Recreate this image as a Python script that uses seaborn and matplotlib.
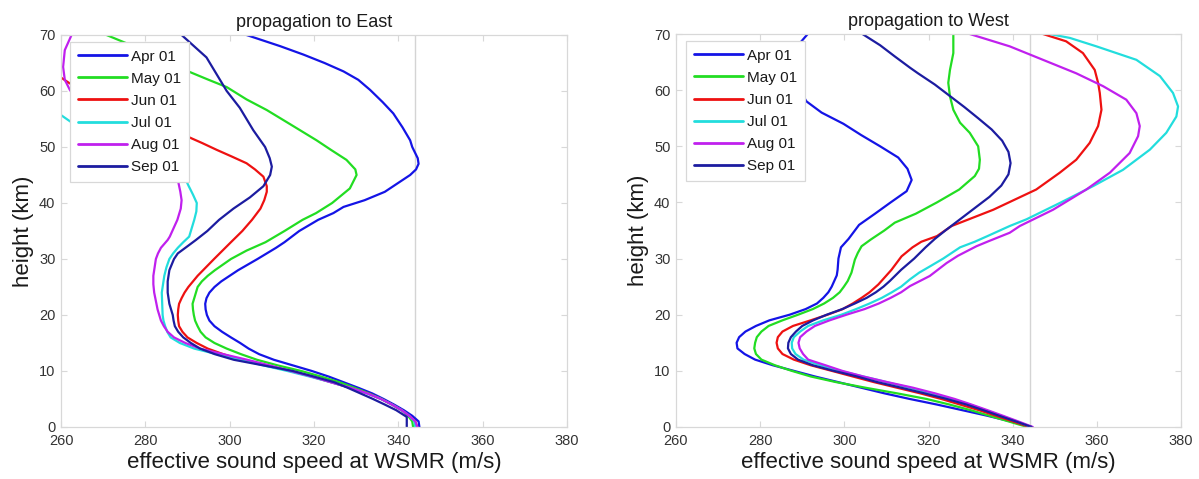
import matplotlib
matplotlib.use("Agg")
import matplotlib.pyplot as plt
import pandas as pd
import seaborn as sns

# Effective sound speed profiles at WSMR: (height km, speed m/s)
MONTHS = ["Apr 01", "May 01", "Jun 01", "Jul 01", "Aug 01", "Sep 01"]
COLORS = ["#1414e6", "#22dd22", "#ee1111", "#22dddd", "#c020ee", "#1c1ca0"]

EAST_APR = [(0, 345), (1, 344.8), (2, 343.3), (3, 341.3), (4, 339), (5, 336.5), (6, 333.8), (7, 330.5),
            (8, 327), (9, 323.5), (10, 319.5), (11, 315), (12, 310.5), (13, 307), (14, 304.5), (15, 302.5),
            (16, 300.3), (17, 298.2), (18, 296.4), (19, 295.2), (20, 294.6), (21, 294.3), (22, 294.2),
            (23, 294.5), (24, 295.2), (25, 296.4), (26, 298), (27, 300), (28, 302), (30, 306.6), (32, 311),
            (33, 313), (35, 316.5), (37, 321), (38.2, 324.6), (39.3, 327), (40.5, 332), (42, 336.8),
            (43.8, 340.4), (45, 342.8), (46, 344.2), (47, 344.8), (48, 344.6), (50, 343.3), (51.2, 342.8),
            (53.5, 341), (56, 338.8), (58, 336.3), (60.2, 333.3), (62, 330.5), (63.5, 327), (65, 322.5),
            (66.5, 317.5), (68, 312), (70, 304)]
EAST_MAY = [(0, 343.5), (1, 343.3), (2, 342.3), (3, 340.8), (4, 338.5), (5, 336), (6, 333), (7, 329.6),
            (8, 326), (9, 321.7), (10, 317), (11, 311.4), (12, 306.5), (13, 302.7), (14, 299.3), (15, 296.4),
            (16, 294.3), (17, 293.1), (18, 292.4), (19, 291.8), (20, 291.5), (21, 291.3), (22, 291.2),
            (23, 291.6), (24, 292), (25, 292.4), (26, 293.4), (27, 294.8), (28, 296.5), (30, 300.3),
            (31.5, 304), (33, 308.5), (35, 313), (37, 317.3), (38.2, 320.5), (40, 324.3), (42.6, 328.5),
            (45, 330.1), (46, 329.8), (47.7, 327.7), (49.5, 324), (51.2, 320.6), (54, 314.5), (56.6, 308.8),
            (58.5, 304), (60.7, 299.3), (62, 295), (63.5, 290.2), (65, 285.7), (67, 279.9), (68.5, 275.6),
            (70, 270.8)]
EAST_JUN = [(0, 344.5), (1, 344), (2, 342.6), (3, 340.8), (4, 338.5), (5, 335.9), (6, 332.8), (7, 328.6),
            (8, 324), (9, 319.5), (10, 314.5), (11, 308.5), (12, 302.7), (13, 298.5), (14, 294.8), (15, 292.2),
            (16, 290), (17, 288.8), (18, 288), (19, 287.8), (20, 287.7), (21, 287.8), (22, 288), (23, 288.6),
            (24, 289.3), (25, 290.2), (26, 291.3), (27, 292.4), (28, 293.7), (30, 296.3), (31.5, 298.3),
            (33, 300.3), (35, 303), (37, 305.3), (39, 307.3), (40.5, 308.2), (42, 308.8), (43, 308.8),
            (44.7, 308), (46, 306), (47.1, 304), (48.3, 300.5), (49.5, 296.9), (50.7, 293.5), (51.8, 290.2),
            (53, 286), (55, 280), (57, 273.5), (59, 268), (61.4, 262), (62.4, 260), (63.5, 257)]
EAST_JUL = [(0, 344), (1, 343.8), (2, 342.6), (3, 340.8), (4, 338.5), (5, 335.9), (6, 332.6), (7, 328.6),
            (8, 324), (9, 319), (10, 313.7), (11, 308), (12, 302.7), (13, 297), (14, 291.6), (15, 288.2),
            (16, 286), (17, 285.2), (18, 284.7), (19, 284.3), (20, 284.1), (22, 284), (24, 283.9), (25, 284.1),
            (27, 284.5), (28.5, 285), (30, 285.7), (31, 286.6), (32, 287.7), (33, 289), (34, 290.4),
            (35, 290.8), (37, 291.6), (38.5, 292.1), (40, 292.2), (41.5, 291.3), (43, 290.3), (43.8, 289.8),
            (45, 288), (48, 284), (51, 278), (53, 270), (54.5, 262.3), (55.7, 260), (56.5, 258)]
EAST_AUG = [(0, 344.5), (1, 344), (2, 342.6), (3, 340.8), (4, 338.5), (5, 335.9), (6, 332.6), (7, 328.6),
            (8, 324), (9, 319.5), (10, 314.5), (11, 309.5), (12, 304.2), (13, 298.5), (14, 293), (15, 289.5),
            (16, 286.8), (17, 285.3), (18, 284.4), (19, 283.7), (21, 282.9), (22.5, 282.5), (24, 282.1),
            (25.5, 281.9), (27, 281.9), (28.5, 282.2), (30, 282.5), (31, 283), (32, 283.7), (33.4, 285.3),
            (34, 285.8), (35.5, 286.7), (37, 287.6), (39, 288.4), (40.5, 288.6), (42, 288.3), (43.8, 287.8),
            (46, 285), (50, 278), (54, 270), (57, 265), (60.2, 262.1), (62, 260.9), (64.3, 260.5),
            (67.3, 260.9), (70, 262.5)]
EAST_SEP = [(0, 342), (1, 342), (1.8, 342), (3, 339.5), (4, 336.8), (5, 334), (6, 331), (7, 328),
            (8, 324.8), (9, 320), (10, 315), (11, 308), (12, 301), (13, 296.5), (14, 293), (15, 290.8),
            (16, 289), (17, 287.8), (18, 287), (19, 286.7), (20, 286.5), (22, 285.7), (24, 285.3), (26, 285.3),
            (28, 285.7), (30, 286.8), (31, 287.7), (32, 289.5), (33.4, 292), (35, 294.7), (37, 297.5),
            (39, 300.9), (41, 304.8), (43, 308), (45, 309.6), (46.5, 310), (48, 309.5), (50, 308.4),
            (53, 305.6), (57, 302.4), (60, 299.3), (62, 297.7), (66, 294.5), (70, 288.6)]

WEST_APR = [(0, 344.5), (1, 339.5), (2, 334), (3, 328), (4, 322), (5, 315.5), (6, 309.5), (7, 304),
            (8, 298.5), (9, 293), (10, 288), (11, 283), (12, 278.8), (13, 276.3), (14, 274.6), (15, 274.4),
            (16, 275), (17, 276.5), (18, 279), (19, 282.2), (20, 287), (21, 290.8), (22, 293.5), (23, 295),
            (24, 296.2), (25, 297), (26, 297.6), (27, 298.2), (28, 298.4), (30, 298.6), (32, 299.2),
            (33.5, 301), (36, 303.5), (38, 307.3), (40, 311), (42, 314.8), (44, 316), (46, 315), (48, 312.8),
            (50, 308.5), (52, 304), (54, 299.8), (56, 294.6), (58, 291), (59.5, 289.8), (62, 287.5),
            (65, 287), (68, 289), (70, 291.3)]
WEST_MAY = [(0, 343.5), (1, 339), (2, 334.5), (3, 330), (4, 325), (5, 319.5), (6, 312.5), (7, 305),
            (8, 298), (9, 292), (10, 287.5), (11, 283.5), (12, 280.3), (13, 279), (14, 278.6), (15, 278.8),
            (16, 279.2), (17, 280.3), (18, 282), (19, 285.3), (20, 289), (21, 292.5), (22, 295.2), (23, 297.3),
            (24, 298.9), (25, 299.9), (26, 300.8), (27.5, 301.7), (29.8, 302.5), (31, 303.2), (32.2, 304.1),
            (33.4, 306.3), (35, 309.5), (36.4, 312), (38, 317), (40, 322), (42.3, 327.3), (44.7, 331),
            (46, 332), (47.6, 332.2), (50, 331.8), (52.4, 329.8), (54.2, 327.5), (56.5, 325.9), (58.9, 325.1),
            (61.3, 324.7), (63.6, 325.1), (66.6, 325.9), (70, 325.9)]
WEST_JUN = [(0, 344), (1, 340), (2, 336), (3, 332), (4, 327.5), (5, 323), (6, 318), (7, 312.5), (8, 307),
            (9, 302), (10, 297), (11, 292), (12, 288), (13, 285.3), (14, 284.2), (15, 283.9), (16, 284.2),
            (17, 285.3), (18, 287.8), (19, 292), (20, 296), (21, 299.6), (22, 302), (23, 304.1), (24, 306),
            (25.4, 308.1), (28, 311.2), (30.4, 313.6), (32, 316.2), (33, 318.3), (34, 322), (35.8, 325.5),
            (38.7, 335.4), (42.3, 345.6), (45.3, 351.2), (47.6, 355.1), (50.6, 358.3), (53.6, 360.3),
            (56.5, 361.1), (59.5, 360.7), (61.3, 360.3), (63.6, 359.5), (66.6, 356.7), (68.7, 352.7),
            (70, 347.2)]
WEST_JUL = [(0, 344.5), (1, 341), (2, 337.2), (3, 333.5), (4, 329.8), (5, 325.5), (6, 320.5), (7, 315.5),
            (8, 310), (9, 304.5), (10, 299), (11, 294.3), (12, 290.3), (13, 288.4), (14, 287.6), (15, 287.5),
            (16, 288), (17, 289.5), (18, 291.4), (19, 295), (20, 299.3), (21, 302.8), (22, 306), (23, 308.9),
            (24, 311.3), (25, 313.5), (26.3, 315.6), (27.5, 317.8), (28.5, 320.1), (30, 323.5), (32, 327.5),
            (33, 331), (34, 334), (35.8, 339.3), (37, 343.3), (39.9, 351.2), (42.9, 359.1), (45.8, 366.2),
            (49.4, 372.6), (52.4, 376.5), (55.3, 378.9), (57.1, 379.3), (59.5, 378.1), (62.5, 375),
            (65.4, 369.4), (67.8, 359.9), (69.3, 353.6), (70, 348.8)]
WEST_AUG = [(0, 344.8), (1, 341.3), (2, 337.7), (3, 334), (4, 330.2), (5, 326.2), (6, 321.5), (7, 316.3),
            (8, 310.2), (9, 304.5), (10, 299.5), (11, 295.5), (12, 291.4), (13, 290.2), (14, 289.4),
            (15, 289.1), (16, 289.5), (17, 291), (18, 293), (19, 296.5), (20, 300.5), (21, 304.8), (22, 308.2),
            (23, 311), (24, 313.5), (25.1, 315.6), (26.9, 320.3), (29.2, 324.3), (30.5, 327), (32.2, 331.4),
            (33.1, 334.3), (34.6, 339.3), (35.8, 341.7), (38.7, 349.6), (42.3, 357.5), (45.3, 363.1),
            (48.8, 367.8), (51.8, 369.8), (53.6, 370.2), (55.9, 369.4), (58.3, 367), (60.7, 361.5),
            (63, 355.1), (65.4, 347.2), (67.8, 339.3), (70, 329.8)]
WEST_SEP = [(0, 344.5), (1, 340.7), (2, 336.8), (3, 333), (4, 329), (5, 324.3), (6, 319), (7, 313.5),
            (8, 307.8), (9, 303), (10, 297.5), (11, 292.5), (12, 289), (13, 287.3), (14, 286.6), (15, 286.7),
            (16, 287.3), (17, 288.5), (18, 290), (19, 292.6), (20, 295.8), (21, 299.5), (22, 302.5),
            (23, 305.3), (24, 307.5), (25, 309.3), (26, 310.8), (28, 313.5), (30, 316.6), (32, 319.3),
            (33.5, 321.5), (35, 324), (37, 327.5), (39, 331), (41, 334.5), (43, 337.3), (45, 339), (47, 339.5),
            (49, 339), (51, 337.5), (53, 335), (55, 331.8), (57, 328.5), (59, 325), (61, 321.5), (63, 317.5),
            (64, 315.6), (66, 312), (68, 308.5), (70, 304.3)]

EAST = [EAST_APR, EAST_MAY, EAST_JUN, EAST_JUL, EAST_AUG, EAST_SEP]
WEST = [WEST_APR, WEST_MAY, WEST_JUN, WEST_JUL, WEST_AUG, WEST_SEP]

GROUND_SPEED = 344  # surface sound speed reference line
X_TICKS = [260, 280, 300, 320, 340, 360, 380]
Y_TICKS = [0, 10, 20, 30, 40, 50, 60, 70]


def to_frame(profiles):
    rows = []
    for month, prof in zip(MONTHS, profiles):
        for h, c in prof:
            rows.append((month, h, c))
    return pd.DataFrame(rows, columns=["month", "height", "speed"])


sns.set_theme(style="white")
plt.rcParams["font.family"] = ["Liberation Sans", "DejaVu Sans"]

W, H = 1199, 479
fig = plt.figure(figsize=(W / 100, H / 100), dpi=100)
ax_e = fig.add_axes([61 / W, 1 - 427 / H, 506 / W, 392 / H])
ax_w = fig.add_axes([676 / W, 1 - 427 / H, 505 / W, 393 / H])

frame_grey = "#d8d8d8"
panels = [(ax_e, EAST, "propagation to East", 9 / 506),
          (ax_w, WEST, "propagation to West", 10 / 505)]

for ax, profiles, title, leg_x in panels:
    df = to_frame(profiles)
    ax.axvline(GROUND_SPEED, color="#d4d4d4", lw=1.0, zorder=0)
    sns.lineplot(data=df, x="speed", y="height", hue="month", hue_order=MONTHS,
                 palette=COLORS, sort=False, estimator=None, lw=1.6, ax=ax)
    ax.set_xlim(260, 380)
    ax.set_ylim(0, 70)
    ax.set_xticks(X_TICKS)
    ax.set_yticks(Y_TICKS)
    ax.tick_params(direction="in", length=4, width=0.8, color=frame_grey,
                   top=True, right=True, bottom=True, left=True,
                   labelsize=10.5, labelcolor="#333333")
    ax.tick_params(axis="x", pad=5)
    ax.tick_params(axis="y", pad=4)
    for sp in ax.spines.values():
        sp.set_color(frame_grey)
        sp.set_linewidth(0.9)
    ax.set_xlabel("effective sound speed at WSMR (m/s)", fontsize=16, color="#1a1a1a", labelpad=3)
    ax.set_ylabel("height (km)", fontsize=16, color="#1a1a1a", labelpad=4)
    ax.set_title(title, fontsize=13, color="#1a1a1a", pad=6)

    handles, labels = ax.get_legend_handles_labels()
    for hd in handles:
        hd.set_linewidth(2.0)
    leg = ax.legend(handles, labels, loc="upper left", bbox_to_anchor=(leg_x, 1 - 7 / 392),
                    borderaxespad=0, frameon=True, fancybox=False, fontsize=11,
                    handlelength=3.2, handletextpad=0.3, labelspacing=0.53, borderpad=0.5)
    leg.get_frame().set_edgecolor(frame_grey)
    leg.get_frame().set_linewidth(0.9)
    leg.get_frame().set_alpha(1.0)
    for t in leg.get_texts():
        t.set_color("#1a1a1a")

fig.savefig("out.png", dpi=100)
